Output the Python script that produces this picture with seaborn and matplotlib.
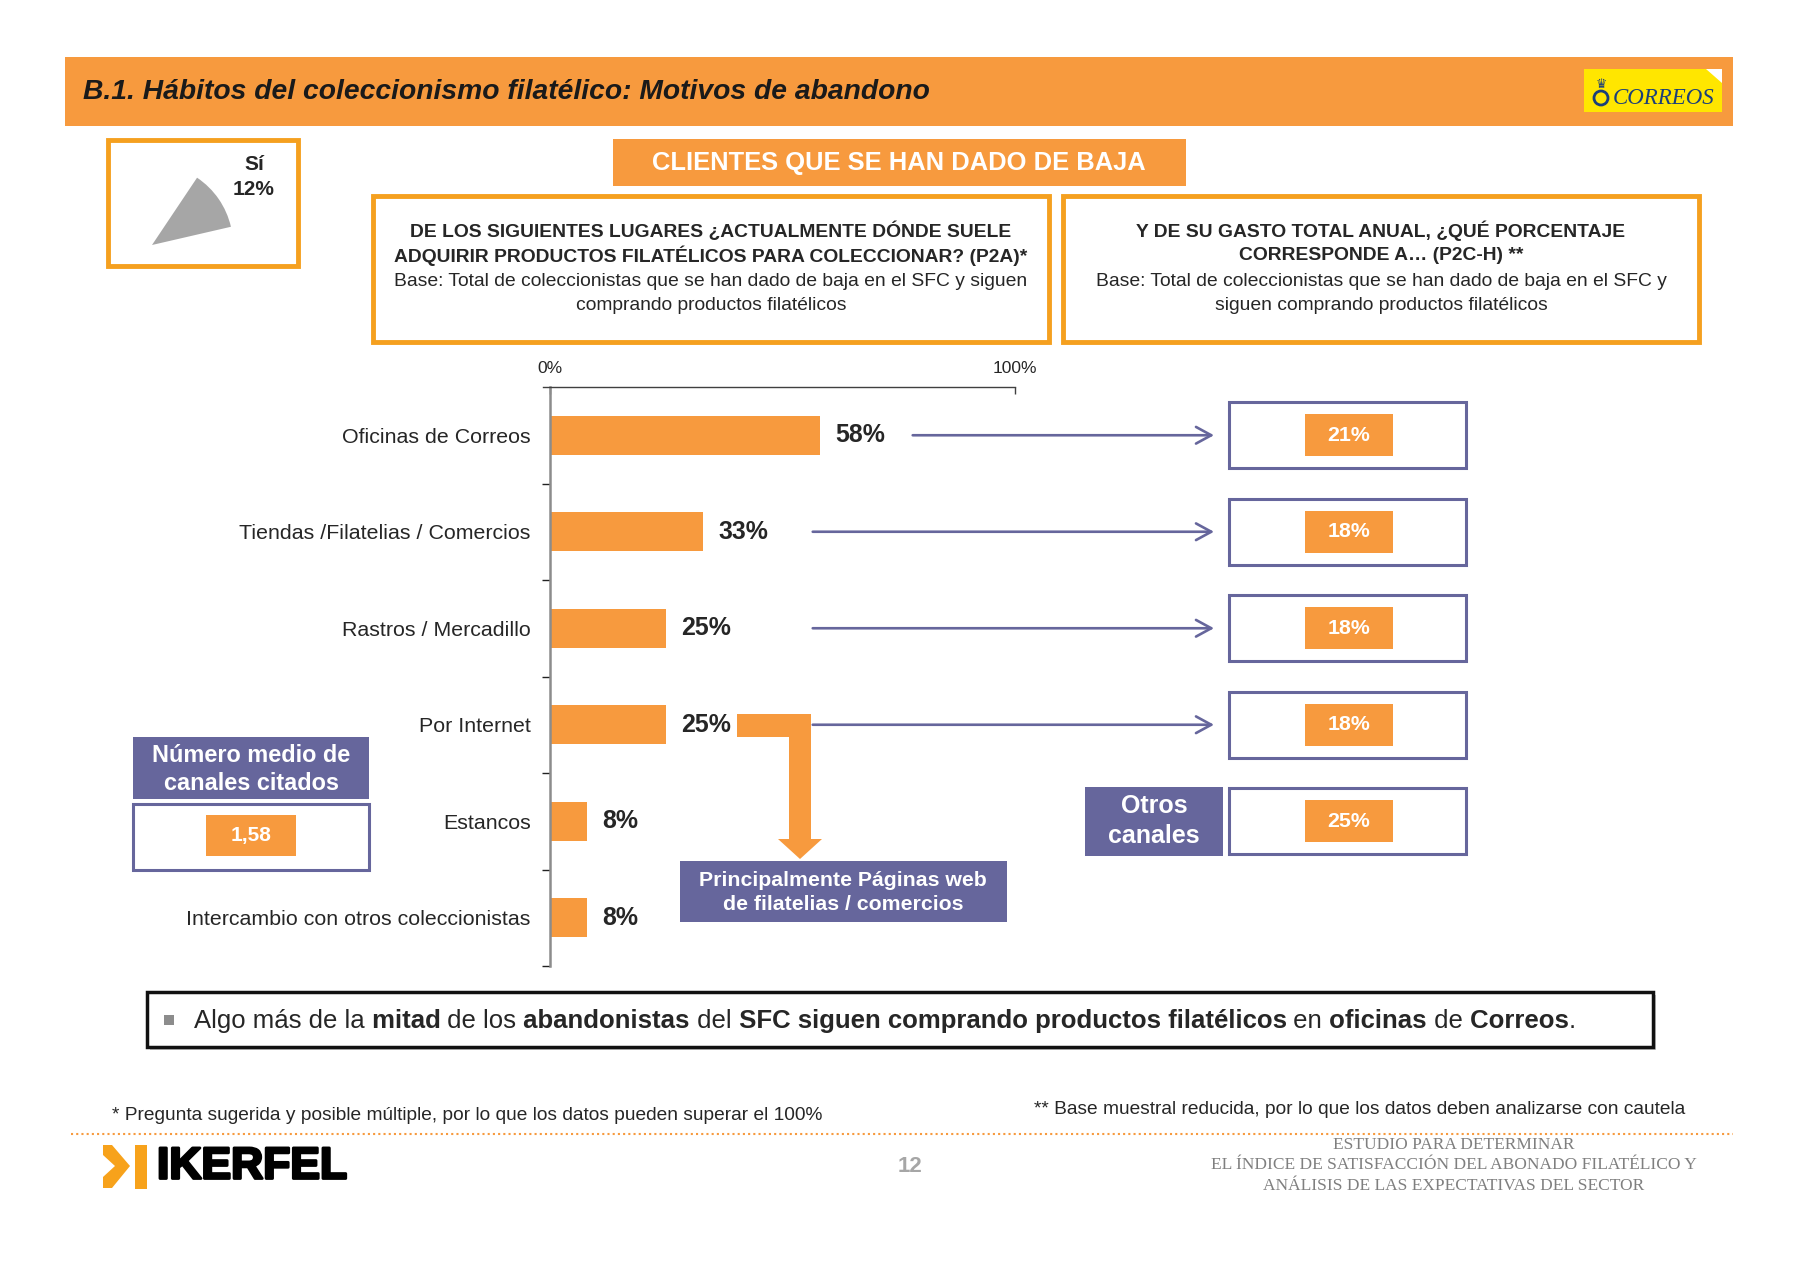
import numpy as np
import pandas as pd
import matplotlib
matplotlib.use("Agg")
import matplotlib.pyplot as plt
import matplotlib.transforms as mtransforms
import matplotlib.patheffects as pe
from matplotlib.patches import Rectangle, Polygon, Circle
import seaborn as sns

# ------------------------------
# Data
# ------------------------------
channels = ["Oficinas de Correos", "Tiendas /Filatelias / Comercios", "Rastros / Mercadillo",
            "Por Internet", "Estancos", "Intercambio con otros coleccionistas"]
channel_pct = [58, 33, 25, 25, 8, 8]
spend_pct = [21, 18, 18, 18, 25]          # last value = "Otros canales"
quit_pie = [12, 88]                       # Sí / No
quit_label = "Sí\n12%"
avg_channels = "1,58"
x_ticks = [0, 100]
x_ticklabels = ["0%", "100%"]

ORANGE = "#F79A3E"
GOLD = "#F5A01F"
PURPLE = "#66669C"

sns.set_theme(style="white")
plt.rcParams['font.family'] = ['Liberation Sans', 'DejaVu Sans']

W, H = 1800, 1261
fig = plt.figure(figsize=(W / 100, H / 100), dpi=100)

# background axes in pixel coordinates for the slide decoration
bg = fig.add_axes([0, 0, 1, 1])
bg.set_xlim(0, W)
bg.set_ylim(H, 0)
bg.axis("off")

# ------------------------------
# Header
# ------------------------------
bg.add_patch(Rectangle((65, 57), 1668, 69, fc=ORANGE, ec="none"))
bg.text(83, 92, "B.1. Hábitos del coleccionismo filatélico: Motivos de abandono",
        fontsize=20.3, fontweight="bold", fontstyle="italic", va="center", color="#1a1a1a")
# Correos logo
bg.add_patch(Rectangle((1584, 69), 138, 43, fc="#FFE600", ec="none"))
bg.add_patch(Polygon([(1706, 69), (1722, 69), (1722, 83)], fc="white", ec="none"))
bg.add_patch(Circle((1601, 98), 7, fill=False, ec="#1B3F7A", lw=2))
bg.text(1601, 84, "♛", fontsize=9, ha="center", va="center", color="#1B3F7A", family="DejaVu Sans")
bg.text(1664, 98, "CORREOS", fontsize=16.5, fontstyle="italic", ha="center", va="center",
        color="#1B3F7A", family="Liberation Serif")

# ------------------------------
# Pie box (Sí 12%)
# ------------------------------
bg.add_patch(Rectangle((108, 140), 190, 126, fill=False, ec=GOLD, lw=3.5))
pax = fig.add_axes([(152 - 81) / W, 1 - (245 + 81) / H, 162 / W, 162 / H])
pax.pie(quit_pie, colors=["#A6A6A6", "none"], startangle=13, counterclock=True,
        radius=1, wedgeprops=dict(linewidth=0))
pax.set_xlim(-1, 1)
pax.set_ylim(-1, 1)
bg.text(254, 177, quit_label, fontsize=15, fontweight="bold", ha="center", va="center",
        linespacing=1.35)

# ------------------------------
# Title box and question boxes
# ------------------------------
bg.add_patch(Rectangle((613, 139), 573, 47, fc=ORANGE, ec="none"))
bg.text(899, 163, "CLIENTES QUE SE HAN DADO DE BAJA", fontsize=18.4, fontweight="bold",
        color="white", ha="center", va="center")

q1 = [("DE LOS SIGUIENTES LUGARES ¿ACTUALMENTE DÓNDE SUELE", "bold"),
      ("ADQUIRIR PRODUCTOS FILATÉLICOS PARA COLECCIONAR? (P2A)*", "bold"),
      ("Base: Total de coleccionistas que se han dado de baja en el SFC y siguen", "normal"),
      ("comprando productos filatélicos", "normal")]
q2 = [("Y DE SU GASTO TOTAL ANUAL, ¿QUÉ PORCENTAJE", "bold"),
      ("CORRESPONDE A… (P2C-H) **", "bold"),
      ("Base: Total de coleccionistas que se han dado de baja en el SFC y", "normal"),
      ("siguen comprando productos filatélicos", "normal")]
line_y = [231, 256, 281, 306]
bg.add_patch(Rectangle((373, 196), 676, 146, fc="white", ec=GOLD, lw=3.5))
bg.add_patch(Rectangle((1063, 196), 636, 146, fc="white", ec=GOLD, lw=3.5))
for (txt, wt), y in zip(q1, line_y):
    bg.text(711, y, txt, fontsize=13.9, fontweight=wt, ha="center", va="center")
for (txt, wt), y in zip(q2, line_y):
    bg.text(1381, y, txt, fontsize=13.9, fontweight=wt, ha="center", va="center")

# ------------------------------
# Bar chart
# ------------------------------
px_per_unit = 4.65
x_left = -1.6
ax_left = 550 + x_left * px_per_unit
ax = fig.add_axes([ax_left / W, 1 - 966 / H, (1015 - ax_left) / W, (966 - 387) / H])
ax.patch.set_alpha(0)

df = pd.DataFrame({"canal": channels, "pct": channel_pct})
sns.barplot(data=df, y="canal", x="pct", color=ORANGE, saturation=1, width=0.4,
            orient="h", linewidth=0, ax=ax)
ax.set_xlim(x_left, 100)
ax.set_ylim(len(channels) - 0.5, -0.5)
ax.set_xlabel("")
ax.set_ylabel("")

for s in ["right", "bottom"]:
    ax.spines[s].set_visible(False)
ax.spines["left"].set_position(("data", 0))
ax.spines["left"].set_color("#8C8C8C")
ax.spines["left"].set_linewidth(1.8)
ax.spines["top"].set_color("#404040")
ax.spines["top"].set_linewidth(1.0)

ax.xaxis.tick_top()
ax.set_xticks(x_ticks)
ax.set_xticklabels(x_ticklabels)
ax.tick_params(axis="x", direction="in", length=5, width=1, color="#404040",
               labelsize=12.5, pad=8)
ax.tick_params(axis="y", which="major", length=0, pad=14, labelsize=15.4)
ax.set_yticks(np.arange(0.5, len(channels), 1), minor=True)
ax.tick_params(axis="y", which="minor", length=6, width=1, direction="out",
               color="#222222", left=True)

for i, v in enumerate(channel_pct):
    ax.text(v + 3.3, i, f"{v}%", va="center", ha="left", fontsize=17.9, fontweight="bold")

# arrows to spending boxes
arrow_end = 142.8
for i, v in enumerate(channel_pct[:4]):
    start = max(v + 20, 56.5)
    ax.annotate("", xy=(arrow_end, i), xytext=(start, i), annotation_clip=False,
                arrowprops=dict(arrowstyle="->,head_length=0.55,head_width=0.3",
                                color=PURPLE, lw=1.9, mutation_scale=20,
                                shrinkA=0, shrinkB=0))

# spending boxes (x in pixels, y in category units)
trans = mtransforms.blended_transform_factory(bg.transData, ax.transData)
for i, v in enumerate(spend_pct):
    ax.add_patch(Rectangle((1229, i - 0.34), 237, 0.68, transform=trans, fill=False,
                           ec=PURPLE, lw=2.2, clip_on=False))
    ax.add_patch(Rectangle((1305, i - 0.22), 88, 0.44, transform=trans, fc=ORANGE,
                           ec="none", clip_on=False))
    ax.text(1349, i, f"{v}%", transform=trans, ha="center", va="center", color="white",
            fontsize=15.4, fontweight="bold", clip_on=False)

# "Otros canales" label
ax.add_patch(Rectangle((1085, 4 - 0.36), 138, 0.72, transform=trans, fc=PURPLE,
                       ec="none", clip_on=False))
ax.text(1154, 4 - 0.16, "Otros", transform=trans, ha="center", va="center",
        color="white", fontsize=18, fontweight="bold")
ax.text(1154, 4 + 0.15, "canales", transform=trans, ha="center", va="center",
        color="white", fontsize=18, fontweight="bold")

# ------------------------------
# Internet callout
# ------------------------------
bg.add_patch(Polygon([(737, 714), (811, 714), (811, 839), (822, 839), (800, 859),
                      (778, 839), (789, 839), (789, 737), (737, 737)],
                     fc=ORANGE, ec="none"))
bg.add_patch(Rectangle((680, 861), 327, 61, fc=PURPLE, ec="none"))
bg.text(843, 881, "Principalmente Páginas web", fontsize=15.3, fontweight="bold",
        color="white", ha="center", va="center")
bg.text(843, 905, "de filatelias / comercios", fontsize=15.3, fontweight="bold",
        color="white", ha="center", va="center")

# ------------------------------
# Average channels box
# ------------------------------
bg.add_patch(Rectangle((133, 737), 236, 62, fc=PURPLE, ec="none"))
bg.text(251, 755, "Número medio de", fontsize=16.9, fontweight="bold", color="white",
        ha="center", va="center")
bg.text(251, 783, "canales citados", fontsize=16.9, fontweight="bold", color="white",
        ha="center", va="center")
bg.add_patch(Rectangle((133, 804), 236, 66, fill=False, ec=PURPLE, lw=2.2))
bg.add_patch(Rectangle((206, 815), 90, 41, fc=ORANGE, ec="none"))
bg.text(251, 836, avg_channels, fontsize=15, fontweight="bold", color="white",
        ha="center", va="center")

# ------------------------------
# Conclusion box
# ------------------------------
bg.add_patch(Rectangle((150, 995), 1506, 55, fc="#C8C8C8", ec="none"))
bg.add_patch(Rectangle((147, 992), 1506, 55, fc="white", ec="#111111", lw=2.5))
bg.add_patch(Rectangle((164, 1015), 10, 10, fc="#8C8C8C", ec="none"))
segments = [("Algo más de la", "normal"), (" mitad", "bold"), (" de los", "normal"),
            (" abandonistas", "bold"), (" del", "normal"),
            (" SFC siguen comprando productos filatélicos", "bold"), (" en", "normal"),
            (" oficinas", "bold"), (" de", "normal"), (" Correos", "bold"), (".", "normal")]
prev = bg.text(194, 1033, segments[0][0], fontsize=18.5, fontweight=segments[0][1],
               va="bottom", ha="left")
for txt, wt in segments[1:]:
    prev = bg.annotate(txt, xy=(1, 0), xycoords=prev, fontsize=18.5, fontweight=wt,
                       va="bottom", ha="left")

# ------------------------------
# Footer
# ------------------------------
bg.text(112, 1116, "* Pregunta sugerida y posible múltiple, por lo que los datos pueden superar el 100%",
        fontsize=13.8, va="center", ha="left")
bg.text(1685, 1109, "** Base muestral reducida, por lo que los datos deben analizarse con cautela",
        fontsize=13.8, va="center", ha="right")
bg.plot([71, 1733], [1134, 1134], color=ORANGE, lw=1.5, ls=(0, (1, 1.5)))

# IKERFEL logo
bg.add_patch(Polygon([(103, 1145), (112, 1145), (130, 1166), (112, 1188), (103, 1188),
                      (103, 1177), (115, 1166), (103, 1155)], fc="#F7A21B", ec="none"))
bg.add_patch(Rectangle((135, 1145), 12, 44, fc="#F7A21B", ec="none"))
bg.text(157, 1167, "IKERFEL", fontsize=32, fontweight="bold", color="black",
        ha="left", va="center",
        path_effects=[pe.withStroke(linewidth=2, foreground="black")])

bg.text(910, 1166, "12", fontsize=16, fontweight="bold", color="#A6A6A6",
        ha="center", va="center")

for txt, y in zip(["ESTUDIO PARA DETERMINAR",
                   "EL ÍNDICE DE SATISFACCIÓN DEL ABONADO FILATÉLICO Y",
                   "ANÁLISIS DE LAS EXPECTATIVAS DEL SECTOR"], [1145, 1165, 1186]):
    bg.text(1454, y, txt, fontsize=12.5, color="#7F7F7F", family="Liberation Serif",
            ha="center", va="center")

fig.savefig("out.png", dpi=100)
